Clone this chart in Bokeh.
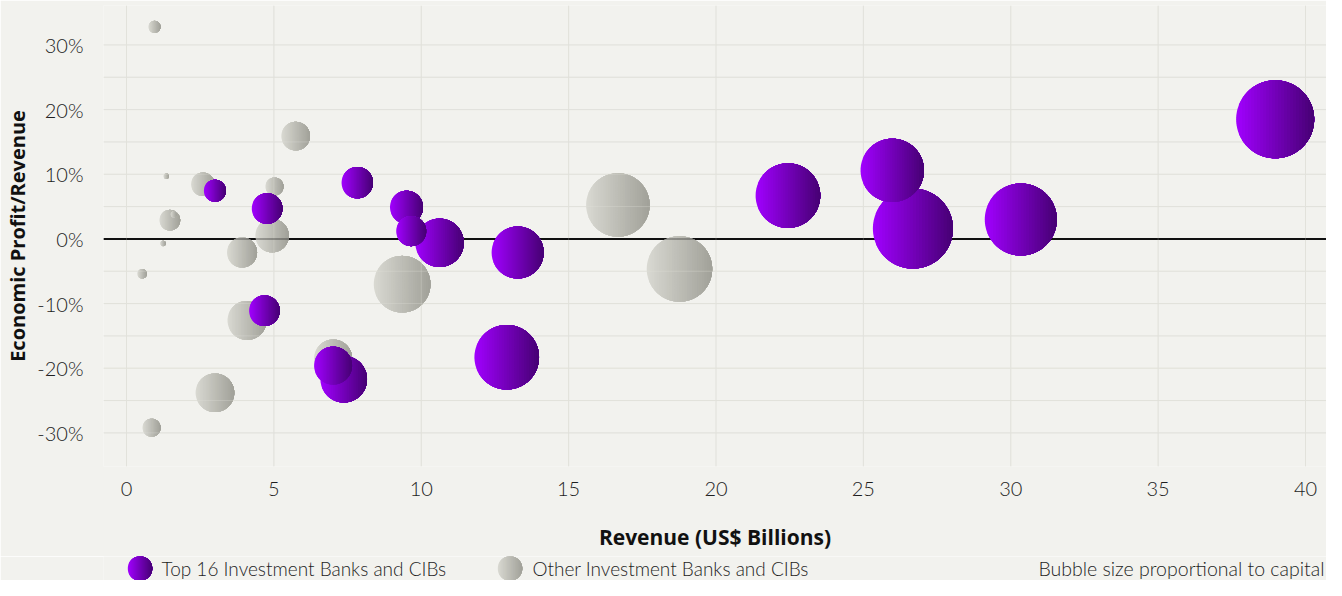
import numpy as np
from bokeh.plotting import figure
from bokeh.models import FixedTicker, PrintfTickFormatter, ColumnDataSource, Range1d
from bokeh.layouts import column
from bokeh.core.properties import value
from bokeh.embed import file_html
from bokeh.resources import INLINE

# ---------------- data ----------------
top_revenue = [3.00, 4.77, 4.68, 7.83, 9.50, 9.66, 10.62, 7.01, 7.37, 12.90, 13.27, 22.44, 25.98, 26.68, 30.34, 38.97]
top_ep_ratio = [7.45, 4.7, -11.1, 8.7, 4.9, 1.2, -0.6, -19.6, -21.7, -18.3, -2.1, 6.7, 10.6, 1.6, 3.0, 18.5]
top_bubble = [11.0, 15.3, 15.3, 15.7, 16.5, 15.0, 24.2, 19.0, 23.3, 32.3, 26.0, 32.3, 31.7, 40.0, 36.0, 39.0]

other_revenue = [0.95, 1.35, 2.59, 5.02, 5.74, 1.47, 1.60, 1.24, 0.53, 3.92, 4.94, 4.09, 3.00, 0.85, 7.01, 9.35, 16.67, 18.76]
other_ep_ratio = [32.8, 9.7, 8.45, 8.1, 15.9, 2.9, 3.8, -0.7, -5.4, -2.1, 0.5, -12.6, -23.8, -29.2, -18.5, -7.0, 5.25, -4.65]
other_bubble = [6.0, 2.7, 11.7, 9.0, 14.3, 10.3, 3.0, 2.7, 4.7, 15.0, 16.7, 19.5, 19.3, 9.0, 19.0, 28.3, 31.7, 32.7]

x_ticks = [0, 5, 10, 15, 20, 25, 30, 35, 40]
y_ticks = [-30, -20, -10, 0, 10, 20, 30]
y_grid = [-30, -25, -20, -15, -10, -5, 5, 10, 15, 20, 25, 30]

x_title = "Revenue (US$ Billions)"
y_title = "Economic Profit/Revenue"
legend_labels = ["Top 16 Investment Banks and CIBs", "Other Investment Banks and CIBs"]
note_text = "Bubble size proportional to capital"

# ---------------- style ----------------
BG = "#F2F2EE"
GRID = "#E2E2DC"
PURPLE_L, PURPLE_R = "#A100FF", "#460073"
GREY_L, GREY_R = "#D9D9D2", "#A1A199"
LIGHT_FONT = "Lato Light"
BOLD_FONT = "Open Sans"

BORDER_L = 103
TOTAL_W = 1326
FW, FH = TOTAL_W - BORDER_L, 461
PPX = 29.475
X0 = -(126 - BORDER_L) / PPX
X1 = X0 + FW / PPX
Y0, Y1 = -35.2, 36.1
PPY = FH / (Y1 - Y0)


def hex_rgb(h):
    h = h.lstrip("#")
    return tuple(int(h[i:i + 2], 16) for i in (0, 2, 4))


def mix(a, b, t):
    ca, cb = hex_rgb(a), hex_rgb(b)
    c = [round(ca[k] + (cb[k] - ca[k]) * t) for k in range(3)]
    return "#%02x%02x%02x" % tuple(c)


def gradient_bubbles(xs, ys, sizes, c_left, c_right, ppx, ppy, n=26, m=120):
    """Circles (radius in screen px) filled with a left-to-right gradient,
    built from overlapping right-hand circle segments."""
    order = np.argsort(-np.asarray(sizes), kind="stable")
    pxs, pys, cols = [], [], []
    for i in order:
        cx, cy, r = xs[i], ys[i], sizes[i]
        rx, ry = r / ppx, r / ppy
        for j in range(n):
            u = -1.0 + 2.0 * j / n
            th = np.arccos(u)
            phi = np.linspace(th, -th, m)
            pxs.append(list(cx + rx * np.cos(phi)))
            pys.append(list(cy + ry * np.sin(phi)))
            cols.append(mix(c_left, c_right, (j + 0.5) / n))
    return ColumnDataSource(dict(xs=pxs, ys=pys, color=cols))


# ---------------- main figure ----------------
p = figure(frame_width=FW, frame_height=FH,
           x_range=Range1d(X0, X1), y_range=Range1d(Y0, Y1),
           output_backend="svg", toolbar_location=None,
           min_border_left=BORDER_L, min_border_right=0, min_border_top=5,
           min_border_bottom=90,
           background_fill_color=BG, border_fill_color=BG)
p.outline_line_color = None
p.xgrid.grid_line_color = None
p.ygrid.grid_line_color = None

# grid lines (drawn as glyphs so they can also be shown through the grey bubbles)
hx0 = [X0] * len(y_grid)
hx1 = [X1] * len(y_grid)
vy0 = [Y0] * len(x_ticks)
vy1 = [Y1] * len(x_ticks)
p.segment(x0=hx0, y0=y_grid, x1=hx1, y1=y_grid, line_color=GRID, line_width=1)
p.segment(x0=x_ticks, y0=vy0, x1=x_ticks, y1=vy1, line_color=GRID, line_width=1)
p.segment(x0=[X0], y0=[0], x1=[X1], y1=[0], line_color="#111111", line_width=2)

# other banks (grey)
src_o = gradient_bubbles(other_revenue, other_ep_ratio, other_bubble, GREY_L, GREY_R, PPX, PPY)
p.patches("xs", "ys", source=src_o, fill_color="color", line_color=None)

# lines faintly visible through the grey bubbles
p.segment(x0=hx0, y0=y_grid, x1=hx1, y1=y_grid, line_color=GRID, line_width=1, line_alpha=0.3)
p.segment(x0=x_ticks, y0=vy0, x1=x_ticks, y1=vy1, line_color=GRID, line_width=1, line_alpha=0.3)
p.segment(x0=[X0], y0=[0], x1=[X1], y1=[0], line_color="#111111", line_width=2, line_alpha=0.3)

# top 16 (purple)
src_t = gradient_bubbles(top_revenue, top_ep_ratio, top_bubble, PURPLE_L, PURPLE_R, PPX, PPY)
p.patches("xs", "ys", source=src_t, fill_color="color", line_color=None)

# axes
for ax in (p.xaxis[0], p.yaxis[0]):
    ax.axis_line_color = None
    ax.major_tick_line_color = None
    ax.minor_tick_line_color = None
    ax.major_label_text_font = LIGHT_FONT
    ax.major_label_text_font_size = "20px"
    ax.major_label_text_color = "#1e1e1e"
    ax.axis_label_text_font = BOLD_FONT
    ax.axis_label_text_font_style = "bold"
    ax.axis_label_text_font_size = "20px"
    ax.axis_label_text_color = "#111111"
p.xaxis.axis_label_text_font_size = "21px"

p.xaxis.ticker = FixedTicker(ticks=x_ticks)
p.yaxis.ticker = FixedTicker(ticks=y_ticks)
p.yaxis.formatter = PrintfTickFormatter(format="%d%%")
p.xaxis.axis_label = x_title
p.yaxis.axis_label = y_title
p.xaxis.major_label_standoff = 9
p.xaxis.axis_label_standoff = 24
p.yaxis.major_label_standoff = 14
p.yaxis.axis_label_standoff = 3

# ---------------- legend strip ----------------
LH = 24
lg = figure(frame_width=FW, frame_height=LH, x_range=Range1d(0, FW), y_range=Range1d(0, LH),
            output_backend="svg", toolbar_location=None,
            x_axis_type=None, y_axis_type=None,
            min_border_left=BORDER_L, min_border_right=0, min_border_top=0, min_border_bottom=0,
            background_fill_color=BG, border_fill_color=BG)
lg.outline_line_color = None
lg.xgrid.grid_line_color = None
lg.ygrid.grid_line_color = None

src_l1 = gradient_bubbles([139.5 - BORDER_L], [12], [12.2], PURPLE_L, PURPLE_R, 1.0, 1.0)
src_l2 = gradient_bubbles([509.5 - BORDER_L], [12], [12.2], GREY_L, GREY_R, 1.0, 1.0)
lg.patches("xs", "ys", source=src_l1, fill_color="color", line_color=None)
lg.patches("xs", "ys", source=src_l2, fill_color="color", line_color=None)

lg.text(x=[161 - BORDER_L, 532 - BORDER_L], y=[12, 12], text=legend_labels,
        text_font=value(LIGHT_FONT), text_font_size="19px", text_color="#1e1e1e",
        text_align="left", text_baseline="middle")
lg.text(x=[FW - 2], y=[12], text=[note_text],
        text_font=value(LIGHT_FONT), text_font_size="19.5px", text_color="#1e1e1e",
        text_align="right", text_baseline="middle")

layout = column(p, lg, spacing=0)
open("out.html", "w").write(file_html(layout, INLINE))
